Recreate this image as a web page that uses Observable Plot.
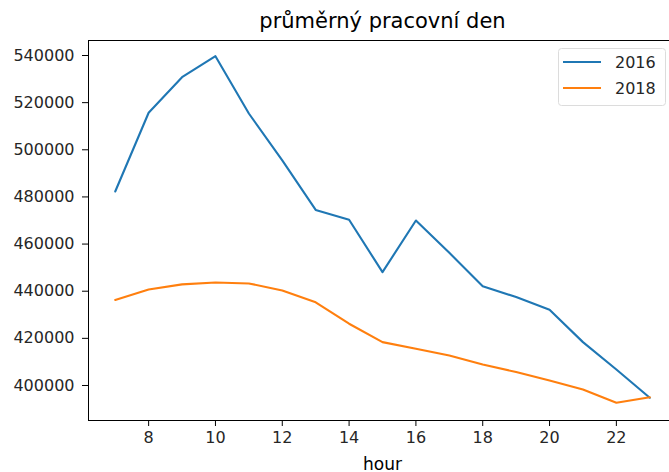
<!DOCTYPE html>
<html>
<head>
<meta charset="utf-8">
<script src="https://cdn.jsdelivr.net/npm/d3@7"></script>
<script src="https://cdn.jsdelivr.net/npm/@observablehq/plot@0.6"></script>
<style>
  html, body { margin: 0; padding: 0; background: #fff; overflow: hidden; }
  #chart { width: 669px; height: 472px; overflow: hidden; }
  #chart svg { max-width: none !important; }
</style>
</head>
<body>
<div id="chart"></div>
<script>
const hours = [7, 8, 9, 10, 11, 12, 13, 14, 15, 16, 17, 18, 19, 20, 21, 22, 23];
const values2016 = [482300, 515700, 530800, 539700, 515400, 495500, 474500, 470300, 448100, 470000, 456300, 442100, 437500, 432100, 418400, 406800, 394800];
const values2018 = [436300, 440700, 442900, 443700, 443300, 440300, 435300, 426200, 418400, 415600, 412700, 408900, 405700, 402100, 398300, 392700, 395000];
const seriesNames = ["2016", "2018"];
const colors = ["#1f77b4", "#ff7f0e"];
const xTicks = [8, 10, 12, 14, 16, 18, 20, 22];
const yTicks = [400000, 420000, 440000, 460000, 480000, 500000, 520000, 540000];
const titleText = "průměrný pracovní den";
const xLabel = "hour";

const data = [
  ...hours.map((h, i) => ({hour: h, value: values2016[i], series: seriesNames[0]})),
  ...hours.map((h, i) => ({hour: h, value: values2018[i], series: seriesNames[1]}))
];

const W = 676, H = 472;
const plot = Plot.plot({
  width: W,
  height: H,
  marginLeft: 88,
  marginRight: 0,
  marginTop: 40,
  marginBottom: 52,
  style: {fontFamily: "DejaVu Sans", fontSize: "16px", color: "#262626", background: "#fff", maxWidth: "none"},
  x: {domain: [6.2, 23.8]},
  y: {domain: [385150, 546364]},
  color: {domain: seriesNames, range: colors},
  marks: [
    Plot.line(data, {x: "hour", y: "value", stroke: "series", strokeWidth: 2.1, curve: "linear"}),
    Plot.frame({stroke: "#000", strokeWidth: 1}),
    Plot.axisX({ticks: xTicks, tickSize: 6, tickPadding: 5, label: null, stroke: "#000", fill: "#262626"}),
    Plot.axisY({ticks: yTicks, tickSize: 6, tickPadding: 8, tickFormat: d3.format("d"), label: null, stroke: "#000", fill: "#262626"}),
    Plot.text([titleText], {frameAnchor: "top", dy: -13, text: d => d, fontSize: 21, fill: "#000", lineAnchor: "bottom"}),
    Plot.text([xLabel], {frameAnchor: "bottom", dy: 49, text: d => d, fontSize: 17, fill: "#000", lineAnchor: "bottom"})
  ]
});
document.getElementById("chart").appendChild(plot);

// legend
const svg = d3.select(plot);
const lg = svg.append("g").attr("font-family", "DejaVu Sans").attr("font-size", 16).attr("text-anchor", "start");
lg.append("rect").attr("x", 558.5).attr("y", 48.5).attr("width", 107).attr("height", 57)
  .attr("rx", 3).attr("fill", "#fff").attr("fill-opacity", 0.8).attr("stroke", "#dcdcdc");
seriesNames.forEach((s, i) => {
  const y = 62 + i * 26;
  lg.append("line").attr("x1", 563).attr("x2", 601).attr("y1", y).attr("y2", y)
    .attr("stroke", colors[i]).attr("stroke-width", 2.1);
  lg.append("text").attr("x", 615).attr("y", y).attr("dy", "0.35em").attr("fill", "#262626").text(s);
});
</script>
</body>
</html>
